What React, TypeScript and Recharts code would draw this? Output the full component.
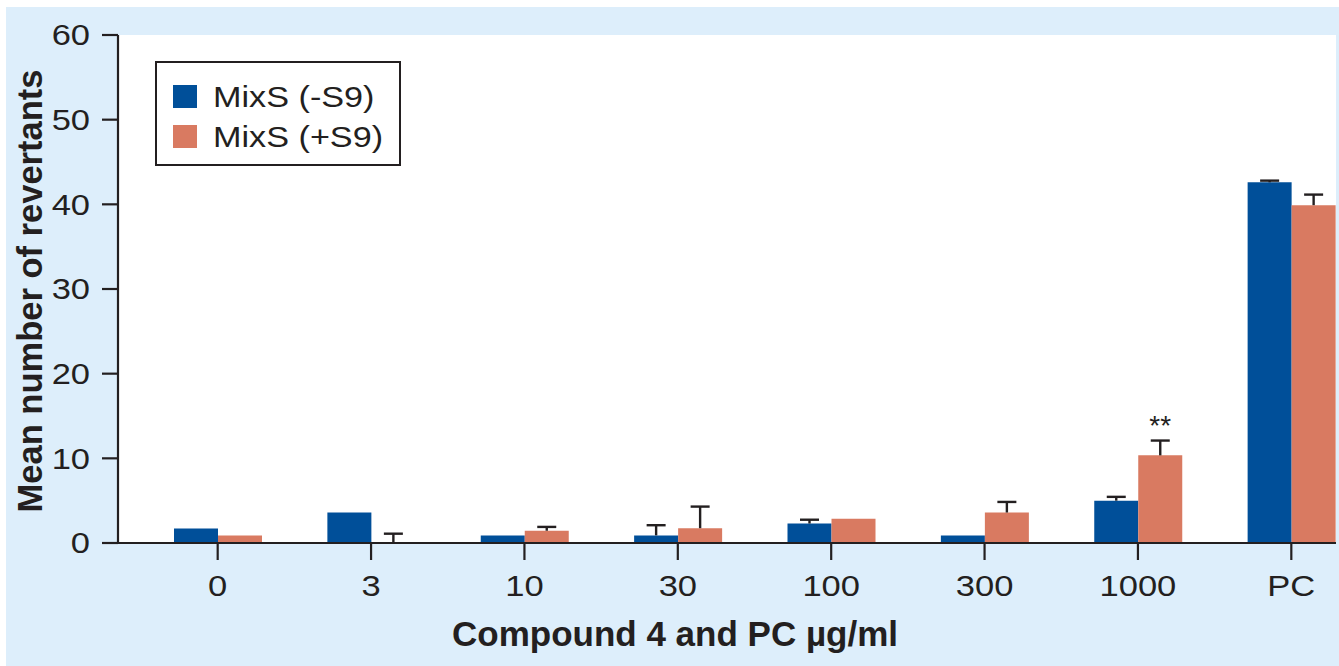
import React from "react";
import { BarChart, Bar, XAxis, YAxis, CartesianGrid, Legend, LabelList } from "recharts";

const categories = ["0", "3", "10", "30", "100", "300", "1000", "PC"];
const minusS9 = [1.7, 3.6, 0.9, 0.9, 2.3, 0.9, 5.0, 42.6];
const minusS9Err = [0, 0, 0, 1.2, 0.45, 0, 0.45, 0.2];
const plusS9 = [0.9, 0, 1.45, 1.75, 2.85, 3.6, 10.35, 39.9];
const plusS9Err = [0, 1.1, 0.45, 2.55, 0, 1.25, 1.75, 1.25];
const significance = ["", "", "", "", "", "", "**", ""];
const yTicks = [0, 10, 20, 30, 40, 50, 60];

const INK = "#231f20";
const BLUE = "#004f99";
const SALMON = "#d97a61";
const FONT = "'Liberation Sans', Arial, Helvetica, sans-serif";
const WIDE = 1.19; // tick/legend lettering in the figure is set wider than plain Helvetica

const data = categories.map((c, i) => ({
  category: c,
  minus: minusS9[i],
  minusErr: minusS9Err[i],
  plus: plusS9[i],
  plusErr: plusS9Err[i],
  sig: significance[i],
}));

// one-sided (upper) error bar drawn on a stacked, otherwise invisible segment
const ErrorShape = (props: any) => {
  const { x, y, width, height } = props;
  if (!height || height <= 0) return <g />;
  const cx = x + width / 2;
  return (
    <g stroke={INK} strokeWidth={2.4}>
      <line x1={cx} y1={y + height} x2={cx} y2={y} />
      <line x1={cx - 9.5} y1={y} x2={cx + 9.5} y2={y} />
    </g>
  );
};

const SigLabel = (props: any) => {
  const { x, y, width, value } = props;
  if (!value) return null;
  return (
    <text x={x + width / 2} y={y - 6} textAnchor="middle" fontSize={28} fontFamily={FONT} fill={INK}>
      {value}
    </text>
  );
};

const XTick = ({ x, y, payload }: any) => (
  <text
    transform={`translate(${x},${y}) scale(${WIDE},1)`}
    textAnchor="middle"
    dy="0.71em"
    fontSize={29}
    fontFamily={FONT}
    fill={INK}
  >
    {payload.value}
  </text>
);

const YTick = ({ x, y, payload }: any) => (
  <text
    transform={`translate(${x},${y}) scale(${WIDE},1)`}
    textAnchor="end"
    dy="0.355em"
    fontSize={29}
    fontFamily={FONT}
    fill={INK}
  >
    {payload.value}
  </text>
);

const order = ["minus", "plus"];

const LegendBox = ({ payload }: any) => {
  const items = (payload || [])
    .filter((p: any) => order.includes(p.dataKey))
    .sort((a: any, b: any) => order.indexOf(a.dataKey) - order.indexOf(b.dataKey));
  return (
    <div
      style={{
        boxSizing: "border-box",
        width: 246,
        height: 105,
        border: `2px solid ${INK}`,
        background: "#fff",
        padding: "13.5px 0 0 16px",
        fontFamily: FONT,
        fontSize: 30,
        color: INK,
        whiteSpace: "nowrap",
      }}
    >
      {items.map((p: any) => (
        <div key={p.dataKey} style={{ display: "flex", alignItems: "center", height: 40 }}>
          <span style={{ display: "inline-block", width: 24, height: 23, background: p.color, marginRight: 16 }} />
          <span style={{ display: "inline-block", transform: "scaleX(1.14)", transformOrigin: "left center" }}>
            {p.value}
          </span>
        </div>
      ))}
    </div>
  );
};

export default function App() {
  return (
    <div style={{ position: "relative", width: 1339, height: 666, background: "#fff", overflow: "hidden" }}>
      <style>{"body{margin:0}"}</style>
      <div style={{ position: "absolute", left: 6, top: 7, right: 0, bottom: 0, background: "#ddeefb" }} />
      <div style={{ position: "absolute", left: 0, top: 0 }}>
        <BarChart
          width={1339}
          height={666}
          data={data}
          margin={{ top: 35, right: 3, left: 0, bottom: 0 }}
          barGap={0}
          barSize={44}
        >
          <CartesianGrid fill="#ffffff" stroke="none" horizontal={false} vertical={false} />
          <XAxis
            dataKey="category"
            height={123}
            interval={0}
            padding={{ left: 23, right: -32 }}
            tickSize={17}
            tickMargin={15}
            axisLine={{ stroke: INK, strokeWidth: 2.2 }}
            tickLine={{ stroke: INK, strokeWidth: 2.2 }}
            tick={<XTick />}
            label={{
              content: (p: any) => {
                const vb = p.viewBox;
                return (
                  <text
                    x={vb.x + vb.width / 2 - 52}
                    y={vb.y + vb.height - 20}
                    textAnchor="middle"
                    fontSize={35}
                    fontWeight="bold"
                    fontFamily={FONT}
                    fill={INK}
                  >
                    Compound 4 and PC µg/ml
                  </text>
                );
              },
            }}
          />
          <YAxis
            width={118}
            domain={[0, 60]}
            ticks={yTicks}
            interval={0}
            tickSize={16}
            tickMargin={12}
            axisLine={{ stroke: INK, strokeWidth: 2.2 }}
            tickLine={{ stroke: INK, strokeWidth: 2.2 }}
            tick={<YTick />}
            label={{
              content: (p: any) => {
                const vb = p.viewBox;
                const cy = vb.y + vb.height / 2 + 2;
                return (
                  <text
                    x={42}
                    y={cy}
                    transform={`rotate(-90 42 ${cy})`}
                    textAnchor="middle"
                    fontSize={34.5}
                    fontWeight="bold"
                    fontFamily={FONT}
                    fill={INK}
                  >
                    Mean number of revertants
                  </text>
                );
              },
            }}
          />
          <Legend
            layout="vertical"
            align="center"
            verticalAlign="middle"
            wrapperStyle={{ left: 155, top: 61, width: 246, height: 105 }}
            content={<LegendBox />}
          />
          <Bar dataKey="minus" name="MixS (-S9)" stackId="a" fill={BLUE} isAnimationActive={false} />
          <Bar dataKey="minusErr" stackId="a" fill="none" legendType="none" shape={<ErrorShape />} isAnimationActive={false} />
          <Bar dataKey="plus" name="MixS (+S9)" stackId="b" fill={SALMON} isAnimationActive={false} />
          <Bar dataKey="plusErr" stackId="b" fill="none" legendType="none" shape={<ErrorShape />} isAnimationActive={false}>
            <LabelList dataKey="sig" content={<SigLabel />} />
          </Bar>
        </BarChart>
      </div>
    </div>
  );
}
